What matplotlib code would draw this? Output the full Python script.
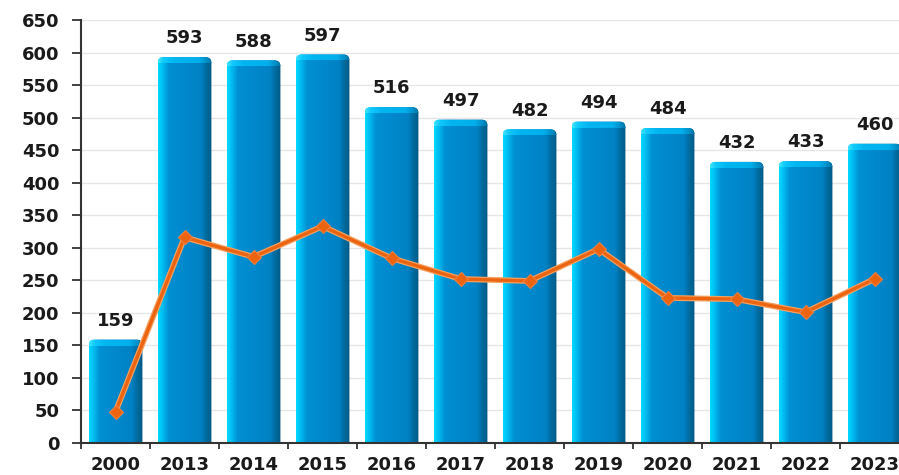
import numpy as np
import matplotlib
matplotlib.use('Agg')
import matplotlib.pyplot as plt
from matplotlib.patches import FancyBboxPatch
from matplotlib.colors import to_rgb

# data
years      = ['2000', '2013', '2014', '2015', '2016', '2017', '2018', '2019', '2020', '2021', '2022', '2023']
bar_vals   = [159, 593, 588, 597, 516, 497, 482, 494, 484, 432, 433, 460]
line_vals  = [48, 316, 286, 333, 284, 252, 249, 298, 223, 221, 201, 252]

W, H = 899, 475
fig = plt.figure(figsize=(W/100., H/100.), dpi=100)
fig.patch.set_facecolor('white')

# axes runs a bit past the right edge, last bar gets cut
x0, y0, x1, y1 = 81, 443, 909, 20
ax = fig.add_axes([x0/W, 1-y0/H, (x1-x0)/W, (y0-y1)/H])
ax.set_xlim(-0.5, len(years)-0.5)
ax.set_ylim(0, 650)

px_x = (x1-x0)/len(years)        # pixels per category
px_y = (y0-y1)/650.               # pixels per value unit

def hgrad(stops, n=80):
    xs = np.linspace(0, 1, n)
    pos = [s[0] for s in stops]
    cols = np.array([to_rgb(s[1]) for s in stops])
    out = np.zeros((1, n, 3))
    for k in range(3):
        out[0, :, k] = np.interp(xs, pos, cols[:, k])
    return out

body = hgrad([(0, '#00d8ff'), (0.07, '#00c0f4'), (0.2, '#0090d2'), (0.5, '#0088cc'),
              (0.8, '#0082c4'), (0.9, '#006b9e'), (1.0, '#005a86')])
cap  = hgrad([(0, '#40e4ff'), (0.1, '#10cafc'), (0.3, '#00b6f0'), (0.75, '#00b0ec'),
              (0.9, '#0090c8'), (1.0, '#0070a0')])

FS = 13
bw = 0.78
r_px = 6
cap_px = 6
for i, v in enumerate(bar_vals):
    left = i - bw/2
    rs = r_px/px_x
    clip = FancyBboxPatch((left, -30), bw, v+30,
                          boxstyle='round,pad=0,rounding_size=%f' % rs,
                          mutation_aspect=px_x/px_y,
                          facecolor='none', edgecolor='none', transform=ax.transData)
    ax.add_patch(clip)
    im = ax.imshow(body, extent=[left, left+bw, 0, v], aspect='auto', zorder=2,
                   interpolation='bilinear')
    im.set_clip_path(clip)
    im2 = ax.imshow(cap, extent=[left, left+bw, v-cap_px/px_y, v], aspect='auto', zorder=2.1,
                    interpolation='bilinear')
    im2.set_clip_path(clip)
    ax.annotate(str(v), (i, v), xytext=(0, 7), textcoords='offset points',
                ha='center', va='bottom', fontsize=FS, fontweight='bold', color='#1a1a1a',
                annotation_clip=False)

ax.set_xlim(-0.5, len(years)-0.5)
ax.set_ylim(0, 650)

xs = np.arange(len(years))
ax.plot(xs, line_vals, color='#f5a060', lw=4.2, zorder=3, solid_capstyle='round')
ax.plot(xs, line_vals, color='#ec6410', lw=2.4, zorder=3.1, marker='D', markersize=7,
        markerfacecolor='#ec6410', markeredgecolor='#f08040', markeredgewidth=0.8)

# grid and axes
ax.set_yticks(np.arange(0, 651, 50))
ax.yaxis.grid(True, color='#e6e6e6', lw=1)
ax.set_axisbelow(True)
for s in ['top', 'right']:
    ax.spines[s].set_visible(False)
ax.spines['left'].set_color('#333333')
ax.spines['bottom'].set_color('#333333')
ax.spines['left'].set_linewidth(1.5)
ax.spines['bottom'].set_linewidth(1.5)

ax.set_xticks(xs)
ax.set_xticklabels(years)
ax.set_xticks(np.arange(-0.5, len(years), 1), minor=True)
ax.tick_params(axis='x', which='major', length=0, pad=9.5, labelsize=FS, labelcolor='#1a1a1a')
ax.tick_params(axis='x', which='minor', length=4, width=1.3, color='#333333', direction='out')
ax.tick_params(axis='y', length=6.5, width=1.3, color='#333333', pad=9, labelsize=FS,
               labelcolor='#1a1a1a')
for lab in ax.get_xticklabels() + ax.get_yticklabels():
    lab.set_fontweight('bold')

fig.savefig('out.png', dpi=100, facecolor='white')
